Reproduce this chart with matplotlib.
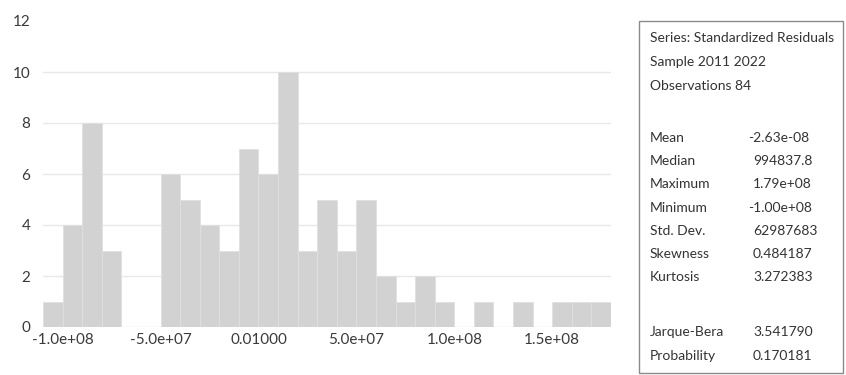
import numpy as np
import matplotlib
matplotlib.use("Agg")
import matplotlib.pyplot as plt
from matplotlib.patches import Rectangle

plt.rcParams['font.family'] = ['Lato', 'DejaVu Sans']

# Histogram of standardized residuals: first bin edge, bin width, counts
bin_start = -1.1e8
bin_width = 1.0e7
counts = [1, 4, 8, 3, 0, 0, 6, 5, 4, 3, 7, 6, 10, 3, 5, 3, 5, 2, 1, 2,
          1, 0, 1, 0, 1, 0, 1, 1, 1]

x_ticks = [-1.0e8, -5.0e7, 0.0, 5.0e7, 1.0e8, 1.5e8]
x_tick_labels = ["-1.0e+08", "-5.0e+07", "0.01000", "5.0e+07", "1.0e+08", "1.5e+08"]
y_ticks = [0, 2, 4, 6, 8, 10, 12]

# Summary statistics panel
header_lines = ["Series: Standardized Residuals", "Sample 2011 2022", "Observations 84"]
stat_names = ["Mean", "Median", "Maximum", "Minimum", "Std. Dev.", "Skewness", "Kurtosis"]
stat_values = ["-2.63e-08", "994837.8", "1.79e+08", "-1.00e+08", "62987683", "0.484187", "3.272383"]
test_names = ["Jarque-Bera", "Probability"]
test_values = ["3.541790", "0.170181"]

W, H = 846, 375
fig = plt.figure(figsize=(W / 100, H / 100), dpi=100)
ax = fig.add_axes([43 / W, (H - 327) / H, (611 - 43) / W, (327 - 21) / H])

edges = bin_start + bin_width * np.arange(len(counts))
ax.bar(edges, counts, width=bin_width, align='edge',
       color='#d2d2d2', edgecolor='#e0e0e0', linewidth=0.6, zorder=2)

ax.set_xlim(bin_start, bin_start + bin_width * len(counts))
ax.set_ylim(0, 12)
ax.set_xticks(x_ticks)
ax.set_xticklabels(x_tick_labels)
ax.set_yticks(y_ticks)
ax.tick_params(axis='both', length=0, labelsize=11, labelcolor='#3a3a3a')
ax.tick_params(axis='y', pad=9)
ax.tick_params(axis='x', pad=4)
for s in ax.spines.values():
    s.set_visible(False)

ax.yaxis.grid(True, color='#e8e8e8', linewidth=1.0, zorder=0)
ax.set_axisbelow(True)
gl = ax.get_ygridlines()
gl[-1].set_visible(False)

# Statistics box
bx0, bx1 = 639 / W, 843 / W
by0, by1 = (H - 373) / H, (H - 21) / H
box = Rectangle((bx0, by0), bx1 - bx0, by1 - by0, transform=fig.transFigure,
                facecolor='white', edgecolor='#8a8a8a', linewidth=1.0)
fig.patches.append(box)

def fy(py):
    return (H - py) / H

txt_kw = dict(fontsize=10, color='#333333', va='center', transform=fig.transFigure)
lx = 650 / W
vx = 753 / W
for i, line in enumerate(header_lines):
    t = fig.text(lx, fy(38 + i * 24), line, **txt_kw)
    t.set_clip_path(box)

for i, (n, v) in enumerate(zip(stat_names, stat_values)):
    y = fy(138 + i * 23.2)
    fig.text(lx, y, n, **txt_kw)
    fig.text(vx - (5 / W if v.startswith('-') else 0), y, v, **txt_kw)

for i, (n, v) in enumerate(zip(test_names, test_values)):
    y = fy(332 + i * 23.5)
    fig.text(lx, y, n, **txt_kw)
    fig.text(vx, y, v, **txt_kw)

fig.savefig("out.png", dpi=100)
